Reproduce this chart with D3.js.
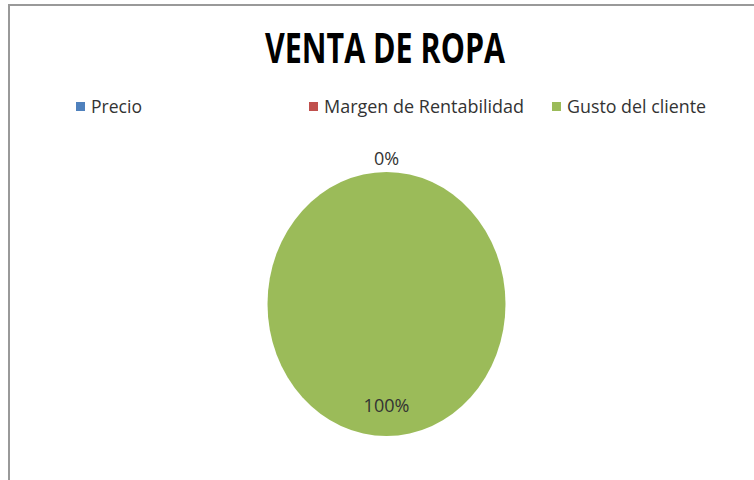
<!DOCTYPE html>
<html lang="es">
<head>
<meta charset="UTF-8">
<script src="https://cdn.jsdelivr.net/npm/d3@7"></script>
<title>VENTA DE ROPA</title>
<style>
    body { margin: 0; background: #fff; }
    text { font-family: "Open Sans", "DejaVu Sans", sans-serif; }
</style>
</head>
<body>
<div id="chart"></div>
<script>
    // datos del grafico
    const categories = ["Precio", "Margen de Rentabilidad", "Gusto del cliente"];
    const values = [0, 0, 100];
    const colors = ["#4F81BD", "#C0504D", "#9BBB59"];
    const title = "VENTA DE ROPA";

    const width = 754,
        height = 480;

    const svg = d3.select("#chart")
        .append("svg")
        .attr("width", width)
        .attr("height", height);

    // marco del grafico
    svg.append("rect")
        .attr("x", 9)
        .attr("y", 5)
        .attr("width", 800)
        .attr("height", 500)
        .attr("fill", "#fff")
        .attr("stroke", "#999")
        .attr("stroke-width", 2);

    svg.append("text")
        .attr("x", 385)
        .attr("y", 63)
        .attr("text-anchor", "middle")
        .attr("font-size", 41)
        .attr("font-weight", "bold")
        .attr("fill", "#000")
        .attr("textLength", 240)
        .attr("lengthAdjust", "spacingAndGlyphs")
        .text(title);

    // leyenda
    const legendX = [76, 309, 552];
    const legendW = [51, 200, 139];
    const legend = svg.append("g").selectAll("g")
        .data(categories)
        .join("g")
        .attr("transform", (d, i) => `translate(${legendX[i]}, 0)`);

    legend.append("rect")
        .attr("x", 0)
        .attr("y", 102)
        .attr("width", 9)
        .attr("height", 9)
        .attr("fill", (d, i) => colors[i]);

    legend.append("text")
        .attr("x", 15)
        .attr("y", 113)
        .attr("font-size", 18)
        .attr("fill", "#333")
        .attr("textLength", (d, i) => legendW[i])
        .attr("lengthAdjust", "spacingAndGlyphs")
        .text(d => d);

    // pastel (algo estirado en vertical como en la imagen)
    const cx = 386.5,
        cy = 304,
        r = 119,
        k = 132 / 119;

    const pie = d3.pie().sort(null).value(d => d)(values);
    const arc = d3.arc().innerRadius(0).outerRadius(r);
    const total = d3.sum(values);

    svg.append("g")
        .attr("transform", `translate(${cx}, ${cy}) scale(1, ${k})`)
        .selectAll("path")
        .data(pie)
        .join("path")
        .attr("d", arc)
        .attr("fill", (d, i) => colors[i]);

    const inArc = d3.arc().innerRadius(r * 0.77).outerRadius(r * 0.77);
    const outArc = d3.arc().innerRadius(r * 1.1).outerRadius(r * 1.1);

    // las porciones de 0% comparten la misma posicion
    const labels = pie.filter((d, i) => i === 0 || d.value > 0);

    svg.append("g")
        .selectAll("text")
        .data(labels)
        .join("text")
        .attr("x", d => cx + (d.value > 0 ? inArc : outArc).centroid(d)[0])
        .attr("y", d => cy + (d.value > 0 ? inArc : outArc).centroid(d)[1] * k)
        .attr("dy", "0.35em")
        .attr("text-anchor", "middle")
        .attr("font-size", 18)
        .attr("fill", "#333")
        .text(d => Math.round(d.value / total * 100) + "%");
</script>
</body>
</html>
